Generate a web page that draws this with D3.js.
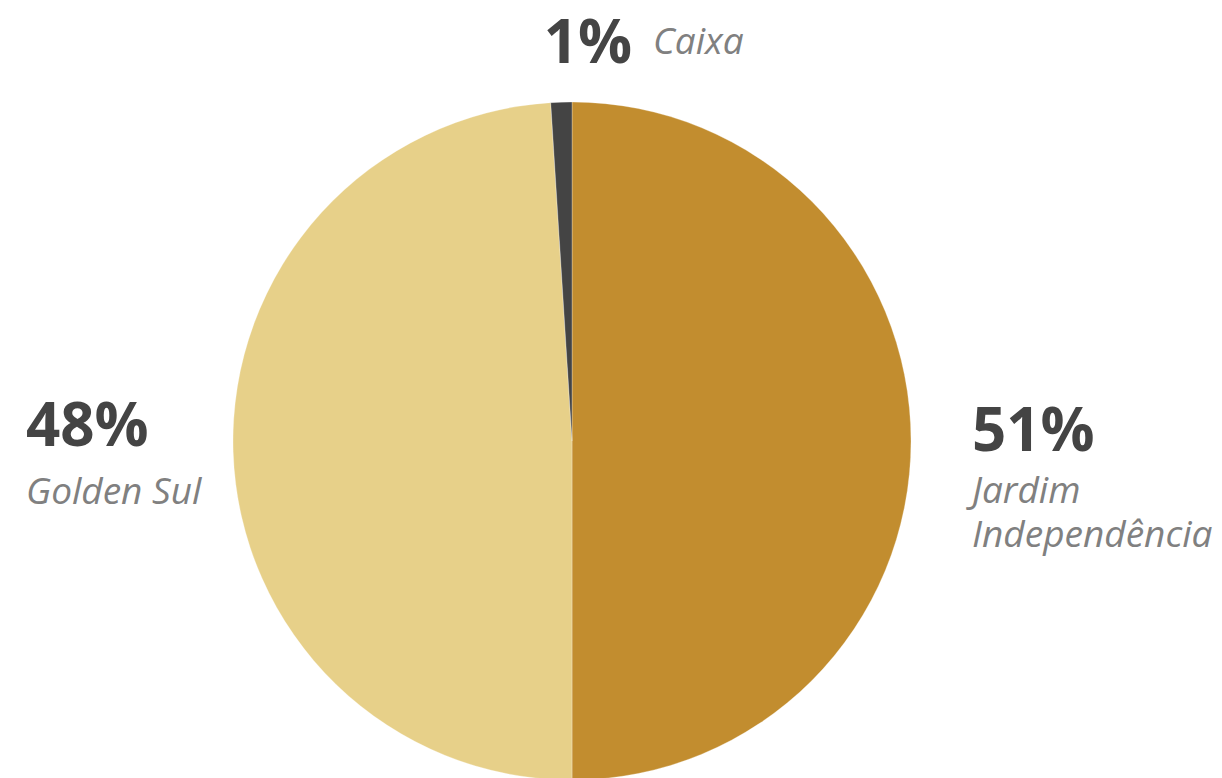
<!DOCTYPE html>
<html>
<head>
<meta charset="utf-8">
<script src="https://cdn.jsdelivr.net/npm/d3@7"></script>
<style>
  body { margin: 0; background: #fff; }
  svg { display: block; }
  .pct { font-family: "Open Sans", sans-serif; font-weight: 700; font-size: 60px; fill: #444; }
  .name { font-family: "Open Sans", sans-serif; font-style: italic; font-size: 37px; fill: #808080; }
</style>
</head>
<body>
<svg id="chart" width="1222" height="778"></svg>
<script>
// slices, clockwise from 12 o'clock
let names = [["Jardim", "Independência"], ["Golden Sul"], ["Caixa"]];
let values = [50, 49, 1];
let pctLabels = ["51%", "48%", "1%"];
let colors = ["#c28d2f", "#e7d089", "#444444"];

var svg = d3.select("#chart");
var cx = 572, cy = 441, radius = 339;

var pie = d3.pie().sort(null).value(d => d);
var arc = d3.arc().innerRadius(0).outerRadius(radius);

var g = svg.append("g").attr("transform", `translate(${cx},${cy})`);

g.selectAll("path")
  .data(pie(values))
  .join("path")
  .attr("d", arc)
  .style("fill", (d, i) => colors[i])
  .style("stroke", "rgba(255,255,255,0.35)")
  .style("stroke-width", 0.8);

// label placement per slice
let labelPos = [
  { x: cx + radius + 61, y: cy + 10, gap: 52, mode: "stack" },
  { x: 26, y: cy + 5, gap: 58, mode: "stack" },
  { x: cx + 60, y: 63, mode: "inline" }
];

pie(values).forEach(function(d, i) {
  let p = labelPos[i];
  if (p.mode == "stack") {
    svg.append("text").attr("class", "pct")
      .attr("x", p.x).attr("y", p.y)
      .text(pctLabels[i]);
    names[i].forEach(function(line, j) {
      svg.append("text").attr("class", "name")
        .attr("x", p.x).attr("y", p.y + p.gap + j * 44)
        .text(line);
    });
  } else {
    svg.append("text").attr("class", "pct")
      .attr("x", p.x).attr("y", p.y)
      .attr("text-anchor", "end")
      .text(pctLabels[i]);
    svg.append("text").attr("class", "name")
      .attr("x", p.x + 21).attr("y", p.y - 9)
      .text(names[i][0]);
  }
});
</script>
</body>
</html>
